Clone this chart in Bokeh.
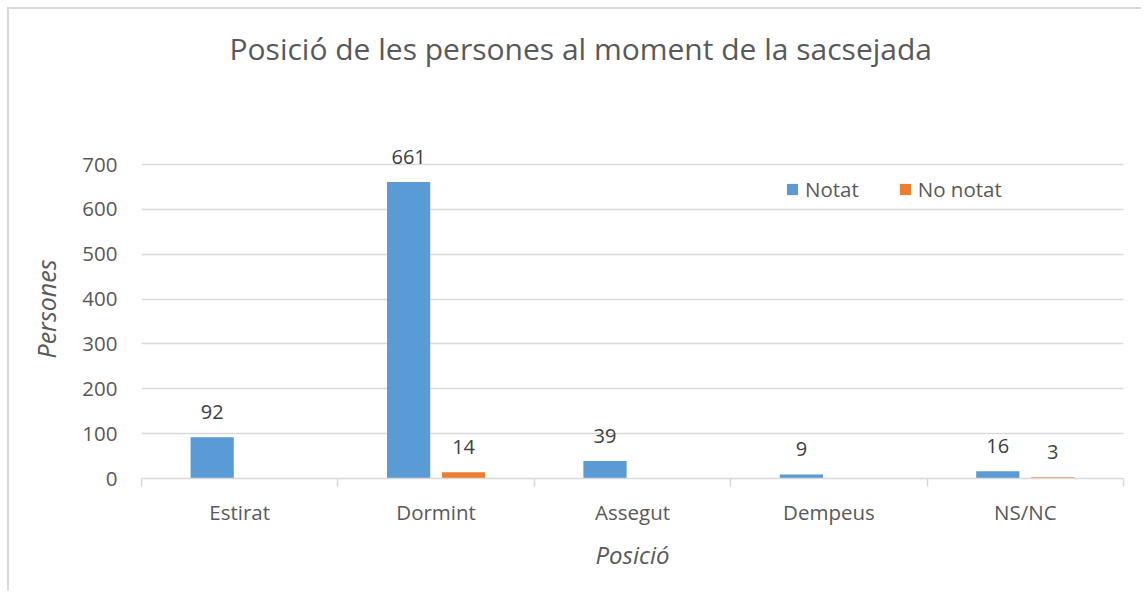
from bokeh.plotting import figure
from bokeh.models import ColumnDataSource, FixedTicker, Legend, LegendItem, Range1d, Title
from bokeh.transform import dodge
from bokeh.core.properties import value
from bokeh.embed import file_html
from bokeh.resources import INLINE

# ---- data ----
chart_title = "Posició de les persones al moment de la sacsejada"
categories = ["Estirat", "Dormint", "Assegut", "Dempeus", "NS/NC"]
notat = [92, 661, 39, 9, 16]
no_notat = [None, 14, None, None, 3]
series_names = ["Notat", "No notat"]
y_ticks = [0, 100, 200, 300, 400, 500, 600, 700]
x_title = "Posició"
y_title = "Persones"

FONT = "Open Sans"
BLUE = "#5B9BD5"
ORANGE = "#ED7D31"
GRID = "#d9d9d9"
TXT = "#595959"

W, H = 1134, 583
p = figure(width=W, height=H, output_backend="svg", toolbar_location=None,
           x_range=Range1d(0, len(categories)), y_range=Range1d(0, 903),
           min_border_left=132, min_border_right=20, min_border_top=64,
           min_border_bottom=114)
p.styles = {"border-left": "2px solid #d9d9d9", "border-top": "2px solid #d9d9d9",
            "margin-left": "7px", "margin-top": "7px"}

centers = [i + 0.5 for i in range(len(categories))]
src1 = ColumnDataSource(dict(x=centers, top=notat, label=[str(v) for v in notat]))
idx2 = [i for i, v in enumerate(no_notat) if v is not None]
src2 = ColumnDataSource(dict(x=[centers[i] for i in idx2], top=[no_notat[i] for i in idx2],
                             label=[str(no_notat[i]) for i in idx2]))

r1 = p.vbar(x=dodge("x", -0.14), top="top", width=0.22, source=src1,
            fill_color=BLUE, line_color=None)
r2 = p.vbar(x=dodge("x", 0.14), top="top", width=0.22, source=src2,
            fill_color=ORANGE, line_color=None)

for src, off in ((src1, -0.14), (src2, 0.14)):
    p.text(x=dodge("x", off), y="top", text="label", source=src,
           text_align="center", text_baseline="alphabetic", y_offset=-25,
           text_font=value(FONT), text_font_size="20px", text_color="#404040")

# title
p.title.text = chart_title
p.title.text_font = FONT
p.title.text_font_size = "30px"
p.title.text_font_style = "normal"
p.title.text_color = TXT
p.title.align = "left"
p.title.offset = 88

# y axis title as a side title
p.add_layout(Title(text=y_title, align="left", offset=120, standoff=33,
                   text_font=FONT, text_font_size="25px", text_font_style="italic",
                   text_color=TXT), "left")

# axes
p.xgrid.visible = False
p.ygrid.grid_line_color = GRID
p.ygrid.grid_line_width = 1.5
p.outline_line_color = None

p.xaxis.ticker = FixedTicker(ticks=centers, minor_ticks=list(range(len(categories) + 1)))
p.xaxis.major_label_overrides = {c: name for c, name in zip(centers, categories)}
p.xaxis.major_tick_line_color = None
p.xaxis.major_tick_out = 0
p.xaxis.major_tick_in = 0
p.xaxis.minor_tick_line_color = GRID
p.xaxis.minor_tick_line_width = 1.5
p.xaxis.minor_tick_out = 8
p.xaxis.minor_tick_in = 0
p.xaxis.axis_line_color = GRID
p.xaxis.axis_line_width = 1.5
p.xaxis.major_label_standoff = 11
p.xaxis.axis_label = x_title
p.xaxis.axis_label_standoff = 9

p.yaxis.ticker = FixedTicker(ticks=y_ticks)
p.yaxis.axis_line_color = None
p.yaxis.major_tick_line_color = None
p.yaxis.minor_tick_line_color = None
p.yaxis.major_label_standoff = 18

for ax in (p.xaxis[0], p.yaxis[0]):
    ax.major_label_text_font = FONT
    ax.major_label_text_font_size = "20.5px"
    ax.major_label_text_color = TXT
    ax.axis_label_text_font = FONT
    ax.axis_label_text_font_size = "24px"
    ax.axis_label_text_font_style = "italic"
    ax.axis_label_text_color = TXT

legend = Legend(items=[LegendItem(label=series_names[0], renderers=[r1]),
                       LegendItem(label=series_names[1], renderers=[r2])],
                orientation="horizontal", location=(644, 275),
                glyph_width=14, glyph_height=14, label_standoff=6, spacing=39,
                padding=0, margin=0, border_line_color=None, background_fill_alpha=0,
                label_text_font=FONT, label_text_font_size="20.5px", label_text_color=TXT)
p.add_layout(legend)

open("out.html", "w").write(file_html(p, INLINE))
